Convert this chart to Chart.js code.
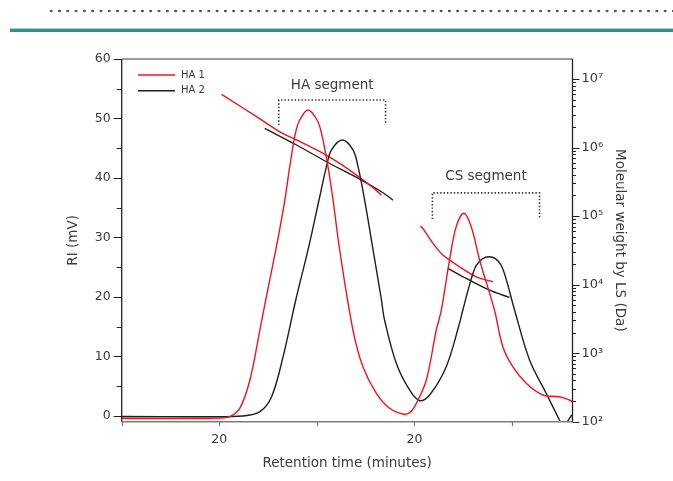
<!DOCTYPE html>
<html>
<head>
<meta charset="utf-8">
<script src="https://cdn.jsdelivr.net/npm/chart.js@4.4.1/dist/chart.umd.min.js"></script>
<style>
  html, body { margin: 0; padding: 0; background: #fff; }
  #wrap { position: relative; width: 673px; height: 481px; overflow: hidden; }
  #dots { position: absolute; left: 47px; top: 9px; width: 626px; height: 4px;
    background-image: radial-gradient(circle, #555 1.1px, transparent 1.6px);
    background-size: 8.3px 4px; }
  #rule { position: absolute; left: 10px; top: 28px; right: 0; height: 3px;
    background: #24968f; border-top: 1px solid #9fd3cf; }
  #chart { position: absolute; left: 0; top: 0; }
</style>
</head>
<body>
<div id="wrap">
  <div id="dots"></div>
  <div id="rule"></div>
  <canvas id="chart" width="673" height="481"></canvas>
</div>
<script>
// retention time (axis units) / RI (mV)
const riTimeHA1 = [0, 5.03, 5.54, 6.05, 6.57, 7.08, 7.38, 7.93, 8.36, 8.61, 8.90, 9.12, 9.55, 10.01, 10.24, 10.57, 10.83, 11.17, 11.85, 12.36, 13.05, 13.73, 14.41, 14.75, 15.10, 15.61, 16.12, 16.38, 16.80, 17.14, 17.53, 17.91, 18.34, 19.10, 19.53, 20.04, 20.73, 21.58, 22.43, 22.94, 23.10];
const riHA1 = [-0.39, -0.34, -0.12, 1.29, 6.05, 14.45, 19.50, 28.5, 36.30, 41.90, 47.51, 49.75, 51.43, 49.75, 47.51, 41.90, 36.30, 27.90, 14.45, 8.29, 3.82, 1.29, 0.34, 0.55, 2.13, 6.05, 14.45, 17.82, 26.22, 31.82, 34.07, 31.82, 26.22, 17.82, 11.65, 8.29, 5.50, 3.53, 3.24, 2.69, 2.35];

const riTimeHA2 = [0, 4.01, 6.22, 7.08, 7.68, 8.27, 8.92, 9.59, 10.11, 10.49, 10.75, 11.31, 11.85, 12.11, 12.45, 12.88, 13.31, 13.47, 14.07, 14.75, 15.27, 15.78, 16.63, 17.31, 17.48, 17.91, 18.17, 18.50, 18.81, 19.15, 19.45, 19.70, 20.13, 20.90, 21.75, 22.43, 22.64, 22.86, 23.06];
const riHA2 = [-0.08, -0.12, 0, 0.72, 3.24, 9.97, 19.50, 28.5, 36.30, 41.90, 44.71, 46.39, 44.71, 41.90, 36.30, 27.90, 19.50, 16.13, 8.86, 4.37, 2.57, 3.53, 8.29, 15.58, 17.82, 23.0, 25.3, 26.45, 26.77, 26.45, 25.3, 23.0, 17.82, 9.41, 3.82, -0.67, -2.0, -0.84, 0.17];

// molecular weight by LS (Da)
const mwTimeHA1a = [5.12, 6.91, 8.10, 8.96, 10.32, 11.17, 12.03, 12.71, 13.31];
const mwHA1a = [5.98e6, 2.82e6, 1.70e6, 1.29e6, 8.23e5, 5.88e5, 3.97e5, 2.84e5, 2.03e5];
const mwTimeHA2a = [7.33, 8.96, 10.49, 12.03, 13.39, 13.90];
const mwHA2a = [1.91e6, 1.09e6, 6.21e5, 3.67e5, 2.19e5, 1.71e5];
const mwTimeHA1b = [15.30, 15.43, 15.95, 16.46, 17.31, 18.17, 19.02];
const mwHA1b = [7.2e4, 6.6e4, 3.99e4, 2.70e4, 1.82e4, 1.30e4, 1.10e4];
const mwTimeHA2b = [16.71, 17.66, 18.85, 19.87];
const mwHA2b = [1.72e4, 1.23e4, 8.3e3, 6.5e3];

const xTicks = [0, 5, 10, 15, 20];
const xTickLabels = ['', '20', '', '20', ''];
const yTicks = [0, 10, 20, 30, 40, 50, 60];
const yMinorTicks = [5, 15, 25, 35, 45, 55];
const mwDecades = [1e2, 1e3, 1e4, 1e5, 1e6, 1e7];
const mwTickLabels = ['10²', '10³', '10⁴', '10⁵', '10⁶', '10⁷'];

const segments = [
  { label: 'HA segment', from: 8.05, to: 13.52, top: 53.1, bottom: 48.9, textY: 55.6 },
  { label: 'CS segment', from: 15.92, to: 21.41, top: 37.5, bottom: 33.1, textY: 40.2 }
];

const RED = '#f0141e';
const BLACK = '#1e1e1e';
const TEXT = '#3a3a3a';
const FONT = "'DejaVu Sans', sans-serif";

function pts(xs, ys) { return xs.map((x, i) => ({ x: x, y: ys[i] })); }

function line(label, xs, ys, color, axis, tension) {
  return {
    label: label,
    data: pts(xs, ys),
    borderColor: color,
    borderWidth: 1.4,
    pointRadius: 0,
    fill: false,
    tension: tension,
    yAxisID: axis
  };
}

// ticks, frame, brackets and legend
const decor = {
  id: 'decor',
  afterDatasetsDraw(chart) {
    const { ctx, chartArea: a, scales } = chart;
    const x = scales.x, y = scales.y, y2 = scales.y2;
    ctx.save();
    // frame
    ctx.lineWidth = 1.5;
    ctx.strokeStyle = '#7d7d7d';
    ctx.beginPath();
    ctx.moveTo(a.left, a.top); ctx.lineTo(a.right, a.top);
    ctx.moveTo(a.left, a.bottom); ctx.lineTo(a.right, a.bottom);
    ctx.stroke();
    ctx.lineWidth = 1.3;
    ctx.strokeStyle = '#222';
    ctx.beginPath();
    ctx.moveTo(a.left, a.top); ctx.lineTo(a.left, a.bottom);
    ctx.moveTo(a.right, a.top); ctx.lineTo(a.right, a.bottom);
    ctx.stroke();
    // left ticks
    ctx.lineWidth = 1.2;
    ctx.beginPath();
    yTicks.forEach(v => { const p = Math.round(y.getPixelForValue(v)) + 0.5; ctx.moveTo(a.left - 8, p); ctx.lineTo(a.left, p); });
    yMinorTicks.forEach(v => { const p = Math.round(y.getPixelForValue(v)) + 0.5; ctx.moveTo(a.left - 5, p); ctx.lineTo(a.left, p); });
    // right log ticks
    mwDecades.forEach(d => {
      for (let m = 1; m <= 9; m++) {
        const v = d * m;
        if (v > y2.max) break;
        const p = Math.round(y2.getPixelForValue(v)) + 0.5;
        ctx.moveTo(a.right, p); ctx.lineTo(a.right + (m === 1 ? 7 : 3.5), p);
      }
    });
    ctx.stroke();
    // bottom ticks
    ctx.strokeStyle = '#7d7d7d';
    ctx.beginPath();
    xTicks.forEach(v => { const p = Math.round(x.getPixelForValue(v)) + 0.5; ctx.moveTo(p, a.bottom); ctx.lineTo(p, a.bottom + 4.5); });
    ctx.stroke();

    // segment brackets
    ctx.strokeStyle = '#333';
    ctx.lineWidth = 1.6;
    ctx.setLineDash([1.4, 2]);
    segments.forEach(s => {
      const x0 = x.getPixelForValue(s.from), x1 = x.getPixelForValue(s.to);
      const t = y.getPixelForValue(s.top), b = y.getPixelForValue(s.bottom);
      ctx.beginPath();
      ctx.moveTo(x0, b); ctx.lineTo(x0, t); ctx.lineTo(x1, t); ctx.lineTo(x1, b);
      ctx.stroke();
      ctx.save();
      ctx.setLineDash([]);
      ctx.fillStyle = TEXT;
      ctx.font = '13.5px ' + FONT;
      ctx.textAlign = 'center';
      ctx.textBaseline = 'middle';
      ctx.fillText(s.label, (x0 + x1) / 2, y.getPixelForValue(s.textY));
      ctx.restore();
    });
    ctx.setLineDash([]);

    // legend
    ctx.font = '10px ' + FONT;
    ctx.textAlign = 'left';
    ctx.textBaseline = 'middle';
    chart.data.datasets.slice(0, 2).forEach((ds, i) => {
      const ly = 75 + i * 15.7;
      ctx.strokeStyle = ds.borderColor;
      ctx.lineWidth = 1.4;
      ctx.beginPath();
      ctx.moveTo(138, ly); ctx.lineTo(175, ly);
      ctx.stroke();
      ctx.fillStyle = TEXT;
      ctx.fillText(ds.label, 181, ly);
    });
    ctx.restore();
  }
};

new Chart(document.getElementById('chart'), {
  type: 'line',
  data: {
    datasets: [
      line('HA 1', riTimeHA1, riHA1, RED, 'y', 0.35),
      line('HA 2', riTimeHA2, riHA2, BLACK, 'y', 0.35),
      line('HA 1 MW', mwTimeHA1a, mwHA1a, RED, 'y2', 0.3),
      line('HA 2 MW', mwTimeHA2a, mwHA2a, BLACK, 'y2', 0.3),
      line('HA 1 MW CS', mwTimeHA1b, mwHA1b, RED, 'y2', 0.3),
      line('HA 2 MW CS', mwTimeHA2b, mwHA2b, BLACK, 'y2', 0.3)
    ]
  },
  options: {
    responsive: false,
    animation: false,
    events: [],
    layout: { padding: { top: 59, left: 0, right: 0, bottom: 0 } },
    plugins: { legend: { display: false }, tooltip: { enabled: false } },
    scales: {
      x: {
        type: 'linear', min: 0, max: 23.1,
        afterBuildTicks: s => { s.ticks = xTicks.map(v => ({ value: v })); },
        afterFit: s => { s.height = 59.3; },
        grid: { display: false, drawTicks: false },
        border: { display: false },
        ticks: { padding: 11, color: TEXT, font: { family: FONT, size: 12.5 }, maxRotation: 0,
          callback: (v, i) => xTickLabels[i] },
        title: { display: true, text: 'Retention time (minutes)', color: TEXT,
          font: { family: FONT, size: 13.5 }, padding: { bottom: 9 } }
      },
      y: {
        position: 'left', min: -0.96, max: 60,
        afterBuildTicks: s => { s.ticks = yTicks.map(v => ({ value: v })); },
        afterFit: s => { s.width = 121.7; },
        grid: { display: false, drawTicks: false },
        border: { display: false },
        ticks: { padding: 11, color: TEXT, font: { family: FONT, size: 12.5 } },
        title: { display: true, text: 'RI (mV)', color: TEXT,
          font: { family: FONT, size: 13.5 }, padding: { top: 65 } }
      },
      y2: {
        type: 'logarithmic', position: 'right', min: 100, max: 1.96e7,
        afterBuildTicks: s => { s.ticks = mwDecades.map(v => ({ value: v })); },
        afterFit: s => { s.width = 100.5; },
        grid: { display: false, drawTicks: false },
        border: { display: false },
        ticks: { padding: 9, color: TEXT, font: { family: FONT, size: 13 },
          callback: (v, i) => mwTickLabels[i] },
        title: { display: true, text: 'Moleular weight by LS (Da)', color: TEXT,
          font: { family: FONT, size: 13.5 }, padding: { top: 45 } }
      }
    }
  },
  plugins: [decor]
});
</script>
</body>
</html>
